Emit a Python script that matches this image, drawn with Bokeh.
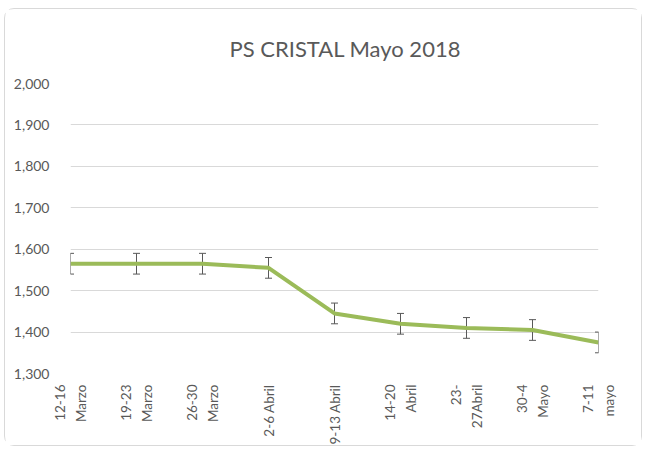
from bokeh.plotting import figure
from bokeh.models import (ColumnDataSource, Range1d, FixedTicker, NumeralTickFormatter,
                          Whisker, TeeHead)
from bokeh.embed import file_html
from bokeh.resources import INLINE

# ---- data ----
weeks = ["12-16\nMarzo", "19-23\nMarzo", "26-30\nMarzo", "2-6 Abril", "9-13 Abril",
         "14-20\nAbril", "23-\n27Abril", "30-4\nMayo", "7-11\nmayo"]
prices = [1565, 1565, 1565, 1555, 1445, 1420, 1410, 1405, 1375]
errors = [25, 25, 25, 25, 25, 25, 25, 25, 25]
y_ticks = [1300, 1400, 1500, 1600, 1700, 1800, 1900, 2000]
title_text = "PS CRISTAL Mayo 2018"

xs = list(range(len(weeks)))
src = ColumnDataSource(dict(
    x=xs, y=prices,
    lo=[p - e for p, e in zip(prices, errors)],
    hi=[p + e for p, e in zip(prices, errors)],
))

FONT = "Lato"
GREY = "#595959"

p = figure(width=638, height=438, output_backend="svg", toolbar_location=None,
           x_range=Range1d(0, len(weeks) - 1), y_range=Range1d(1300, 2000),
           min_border_left=65, min_border_right=45, min_border_top=74, min_border_bottom=70,
           border_fill_color="white")
p.styles = {"margin-left": "4px", "margin-top": "8px",
            "border": "1px solid #d9d9d9", "border-radius": "10px"}

p.title.text = title_text
p.title.align = "left"
p.title.text_font = FONT
p.title.text_font_size = "22px"
p.title.text_font_style = "normal"
p.title.text_color = GREY
p.title.offset = 159
p.title.standoff = 44

p.outline_line_color = None
p.xgrid.grid_line_color = None
p.ygrid.grid_line_color = "#d9d9d9"
p.ygrid.grid_line_width = 1

p.yaxis.ticker = FixedTicker(ticks=y_ticks)
p.yaxis.formatter = NumeralTickFormatter(format="0,0")
p.xaxis.ticker = FixedTicker(ticks=xs)
p.xaxis.major_label_overrides = {i: w for i, w in enumerate(weeks)}
p.xaxis.major_label_orientation = 1.5707963

for ax in (p.xaxis, p.yaxis):
    ax.axis_line_color = None
    ax.major_tick_line_color = None
    ax.minor_tick_line_color = None
    ax.major_label_text_font = FONT
    ax.major_label_text_color = GREY
p.yaxis.major_label_text_font_size = "14px"
p.xaxis.major_label_text_font_size = "13.5px"
p.xaxis.major_label_text_line_height = 1.3
p.yaxis.major_label_standoff = 15
p.xaxis.major_label_standoff = 5

w = Whisker(source=src, base="x", lower="lo", upper="hi", line_color=GREY, line_width=1,
            lower_head=TeeHead(size=7, line_color=GREY, line_width=1),
            upper_head=TeeHead(size=7, line_color=GREY, line_width=1))
p.add_layout(w)

p.line("x", "y", source=src, line_color="#9bbb59", line_width=4, line_join="round")

open("out.html", "w").write(file_html(p, INLINE))
